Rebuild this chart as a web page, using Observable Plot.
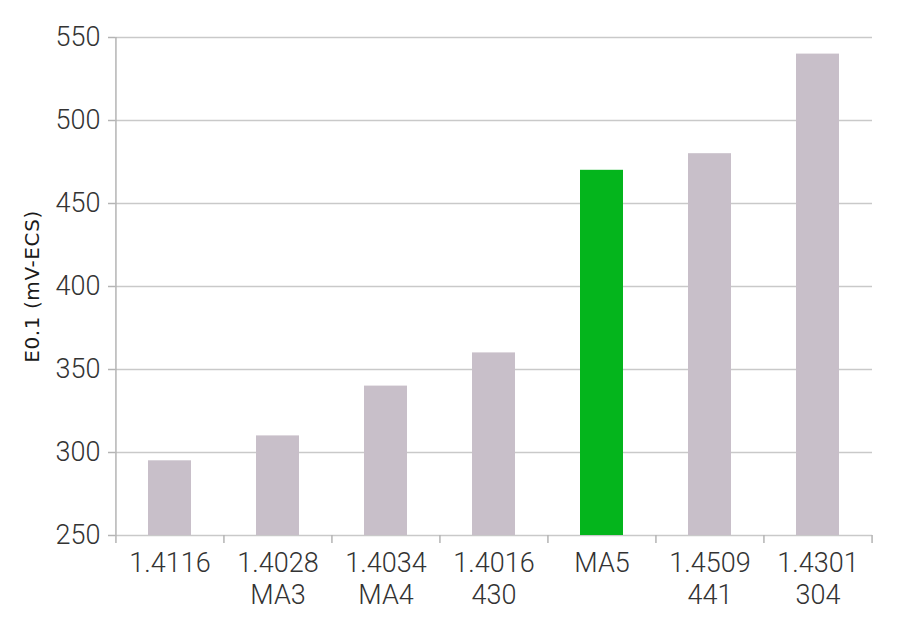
<!DOCTYPE html>
<html>
<head>
<meta charset="utf-8">
<script src="https://cdn.jsdelivr.net/npm/d3@7"></script>
<script src="https://cdn.jsdelivr.net/npm/@observablehq/plot@0.6"></script>
<style>
  html, body { margin: 0; padding: 0; background: #fff; }
  #chart svg { display: block; }
  #chart svg g[aria-label="y-axis label"] text { letter-spacing: 0.6px; }
</style>
</head>
<body>
<div id="chart"></div>
<script>
const categories = ["1.4116", "1.4028\nMA3", "1.4034\nMA4", "1.4016\n430", "MA5", "1.4509\n441", "1.4301\n304"];
const values = [295, 310, 340, 360, 470, 480, 540];
const highlight = ["MA5"];
const yTicks = [250, 300, 350, 400, 450, 500, 550];
const yLabel = "E0.1 (mV-ECS)";

const data = categories.map((c, i) => ({cat: c, value: values[i], hi: highlight.includes(c)}));

const W = 900, H = 626, ML = 115, MR = 28, MT = 37, MB = 91;
const step = (W - ML - MR) / categories.length;
const pIn = 0.6;

const chart = Plot.plot({
  width: W,
  height: H,
  marginLeft: ML,
  marginRight: MR,
  marginTop: MT,
  marginBottom: MB,
  style: {fontFamily: "Roboto, 'DejaVu Sans', sans-serif", color: "#333", background: "#fff"},
  x: {domain: categories, paddingInner: pIn, paddingOuter: pIn / 2, align: 0.5},
  y: {domain: [250, 550], ticks: yTicks},
  marks: [
    Plot.ruleY(yTicks, {stroke: "#c9c9c9", strokeWidth: 1.5}),
    Plot.barY(data, {x: "cat", y1: 250, y2: "value", fill: d => d.hi ? "#04b51c" : "#c8bfc9"}),
    Plot.ruleX([categories[0]], {dx: -step / 2, y1: 250, y2: 550, stroke: "#b4b4b4", strokeWidth: 1.5}),
    Plot.axisY({ticks: yTicks, tickSize: 7, tickPadding: 8, stroke: "#b4b4b4", strokeWidth: 1.5,
      fontSize: 27, fontWeight: 300, fill: "#333", label: null}),
    Plot.axisY({ticks: [], tickSize: 0, label: yLabel, labelAnchor: "center", labelArrow: "none", labelOffset: 91,
      fontSize: 20, fontWeight: 500, fill: "#1a1a1a", fontFamily: "'DejaVu Sans', sans-serif"}),
    Plot.axisX({tickSize: 0, tickPadding: 13, fontSize: 27, fontWeight: 300, lineHeight: 1.2, fill: "#333", label: null}),
    Plot.axisX({tickSize: 8, tickFormat: () => "", dx: -step / 2, stroke: "#b4b4b4", strokeWidth: 1.5, label: null}),
    Plot.axisX([categories[categories.length - 1]], {tickSize: 8, tickFormat: () => "", dx: step / 2, stroke: "#b4b4b4", strokeWidth: 1.5, label: null})
  ]
});
document.getElementById("chart").appendChild(chart);
</script>
</body>
</html>
